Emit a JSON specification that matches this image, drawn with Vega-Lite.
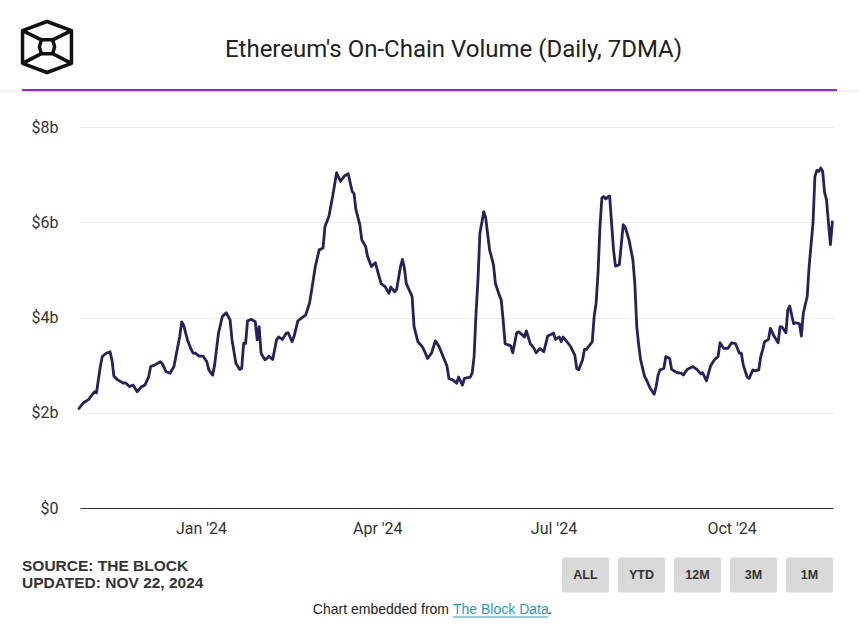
{
  "$schema": "https://vega.github.io/schema/vega-lite/v6.json",
  "width": 753,
  "height": 381,
  "autosize": "none",
  "padding": {"left": 80, "top": 127, "right": 26, "bottom": 120},
  "background": "white",
  "config": {"view": {"stroke": null}, "font": "Roboto"},
  "title": {"text": "Ethereum's On-Chain Volume (Daily, 7DMA)", "font": "Roboto", "fontSize": 24, "fontWeight": "normal", "color": "#222222", "anchor": "middle", "frame": "group", "baseline": "middle", "offset": -54, "dx": -3},
  "resolve": {"scale": {"x": "independent"}},
  "layer": [
    {
      "data": {"values": [{"part": "header"}]},
      "mark": {"type": "rule", "color": "#ebe4f2", "strokeWidth": 1},
      "encoding": {"x": {"value": -80}, "x2": {"value": 779}, "y": {"value": -36}}
    },
    {
      "data": {"values": [{"part": "accent"}]},
      "mark": {"type": "rule", "color": "#9b1fe8", "strokeWidth": 2},
      "encoding": {"x": {"value": -58}, "x2": {"value": 757}, "y": {"value": -37}}
    },
    {
      "data": {"values": [{"brand": "The Block"}]},
      "mark": {"type": "point", "shape": "M0,-1L0.96,-0.64L0.96,0.64L0,1L-0.96,0.64L-0.96,-0.64Z M-0.96,-0.64L-0.22,-0.28 M0.96,-0.64L0.22,-0.28 M-0.96,0.64L-0.22,0.26 M0.96,0.64L0.22,0.26 M-0.22,-0.28L0.22,-0.28L0.3,-0.01L0.22,0.26L-0.22,0.26L-0.3,-0.01Z", "size": 2601, "filled": false, "stroke": "#111111", "strokeWidth": 3.5, "opacity": 1, "strokeJoin": "round"},
      "encoding": {"x": {"value": -33}, "y": {"value": -80}}
    },
    {
      "data": {"values": [
        {"date":"2023-10-30","volume":2.09},{"date":"2023-11-01","volume":2.20},{"date":"2023-11-04","volume":2.28},{"date":"2023-11-05","volume":2.34},{"date":"2023-11-07","volume":2.44},{"date":"2023-11-08","volume":2.42},{"date":"2023-11-10","volume":2.97},{"date":"2023-11-11","volume":3.18},{"date":"2023-11-13","volume":3.25},{"date":"2023-11-15","volume":3.28},{"date":"2023-11-16","volume":3.11},{"date":"2023-11-17","volume":2.77},{"date":"2023-11-19","volume":2.69},{"date":"2023-11-22","volume":2.62},{"date":"2023-11-23","volume":2.63},{"date":"2023-11-25","volume":2.55},{"date":"2023-11-27","volume":2.58},{"date":"2023-11-29","volume":2.44},
        {"date":"2023-12-01","volume":2.54},{"date":"2023-12-03","volume":2.58},{"date":"2023-12-05","volume":2.76},{"date":"2023-12-06","volume":2.97},{"date":"2023-12-08","volume":3.00},{"date":"2023-12-11","volume":3.07},{"date":"2023-12-12","volume":3.03},{"date":"2023-12-14","volume":2.86},{"date":"2023-12-16","volume":2.83},{"date":"2023-12-18","volume":2.97},{"date":"2023-12-19","volume":3.18},{"date":"2023-12-21","volume":3.60},{"date":"2023-12-22","volume":3.91},{"date":"2023-12-23","volume":3.84},{"date":"2023-12-25","volume":3.53},{"date":"2023-12-27","volume":3.32},{"date":"2023-12-28","volume":3.25},{"date":"2023-12-29","volume":3.25},{"date":"2023-12-31","volume":3.19},
        {"date":"2024-01-02","volume":3.19},{"date":"2024-01-04","volume":3.07},{"date":"2024-01-05","volume":2.90},{"date":"2024-01-07","volume":2.79},{"date":"2024-01-08","volume":3.00},{"date":"2024-01-10","volume":3.67},{"date":"2024-01-12","volume":4.02},{"date":"2024-01-14","volume":4.10},{"date":"2024-01-16","volume":3.95},{"date":"2024-01-17","volume":3.53},{"date":"2024-01-19","volume":3.04},{"date":"2024-01-21","volume":2.91},{"date":"2024-01-22","volume":2.93},{"date":"2024-01-23","volume":3.46},{"date":"2024-01-24","volume":3.45},{"date":"2024-01-25","volume":3.93},{"date":"2024-01-27","volume":3.96},{"date":"2024-01-29","volume":3.91},{"date":"2024-01-30","volume":3.53},{"date":"2024-01-31","volume":3.81},
        {"date":"2024-02-01","volume":3.25},{"date":"2024-02-03","volume":3.11},{"date":"2024-02-04","volume":3.14},{"date":"2024-02-05","volume":3.19},{"date":"2024-02-07","volume":3.12},{"date":"2024-02-09","volume":3.53},{"date":"2024-02-10","volume":3.59},{"date":"2024-02-12","volume":3.54},{"date":"2024-02-14","volume":3.67},{"date":"2024-02-15","volume":3.68},{"date":"2024-02-17","volume":3.49},{"date":"2024-02-18","volume":3.60},{"date":"2024-02-20","volume":3.93},{"date":"2024-02-22","volume":3.99},{"date":"2024-02-24","volume":4.05},{"date":"2024-02-26","volume":4.30},{"date":"2024-02-27","volume":4.54},{"date":"2024-02-29","volume":5.07},
        {"date":"2024-03-02","volume":5.42},{"date":"2024-03-04","volume":5.46},{"date":"2024-03-05","volume":5.91},{"date":"2024-03-07","volume":6.12},{"date":"2024-03-09","volume":6.55},{"date":"2024-03-11","volume":7.04},{"date":"2024-03-13","volume":6.86},{"date":"2024-03-15","volume":6.97},{"date":"2024-03-17","volume":7.02},{"date":"2024-03-19","volume":6.65},{"date":"2024-03-20","volume":6.60},{"date":"2024-03-21","volume":6.26},{"date":"2024-03-23","volume":5.95},{"date":"2024-03-24","volume":5.63},{"date":"2024-03-26","volume":5.49},{"date":"2024-03-27","volume":5.28},{"date":"2024-03-29","volume":5.07},{"date":"2024-03-31","volume":5.15},
        {"date":"2024-04-01","volume":5.00},{"date":"2024-04-03","volume":4.71},{"date":"2024-04-05","volume":4.65},{"date":"2024-04-07","volume":4.51},{"date":"2024-04-08","volume":4.64},{"date":"2024-04-10","volume":4.54},{"date":"2024-04-11","volume":4.59},{"date":"2024-04-13","volume":5.07},{"date":"2024-04-14","volume":5.22},{"date":"2024-04-15","volume":5.04},{"date":"2024-04-16","volume":4.71},{"date":"2024-04-19","volume":4.44},{"date":"2024-04-20","volume":3.81},{"date":"2024-04-22","volume":3.49},{"date":"2024-04-24","volume":3.40},{"date":"2024-04-25","volume":3.33},{"date":"2024-04-27","volume":3.14},{"date":"2024-04-29","volume":3.25},
        {"date":"2024-05-01","volume":3.51},{"date":"2024-05-03","volume":3.38},{"date":"2024-05-05","volume":3.18},{"date":"2024-05-07","volume":2.98},{"date":"2024-05-08","volume":2.72},{"date":"2024-05-10","volume":2.69},{"date":"2024-05-12","volume":2.62},{"date":"2024-05-13","volume":2.75},{"date":"2024-05-15","volume":2.58},{"date":"2024-05-16","volume":2.72},{"date":"2024-05-19","volume":2.75},{"date":"2024-05-20","volume":2.83},{"date":"2024-05-21","volume":3.18},{"date":"2024-05-22","volume":4.09},{"date":"2024-05-23","volume":4.79},{"date":"2024-05-24","volume":5.77},{"date":"2024-05-26","volume":6.22},{"date":"2024-05-27","volume":6.09},{"date":"2024-05-29","volume":5.42},{"date":"2024-05-31","volume":5.11},
        {"date":"2024-06-01","volume":4.72},{"date":"2024-06-03","volume":4.47},{"date":"2024-06-04","volume":4.37},{"date":"2024-06-05","volume":3.95},{"date":"2024-06-06","volume":3.45},{"date":"2024-06-08","volume":3.42},{"date":"2024-06-09","volume":3.40},{"date":"2024-06-10","volume":3.26},{"date":"2024-06-12","volume":3.68},{"date":"2024-06-13","volume":3.70},{"date":"2024-06-15","volume":3.63},{"date":"2024-06-16","volume":3.59},{"date":"2024-06-17","volume":3.72},{"date":"2024-06-19","volume":3.45},{"date":"2024-06-21","volume":3.35},{"date":"2024-06-22","volume":3.26},{"date":"2024-06-24","volume":3.35},{"date":"2024-06-26","volume":3.28},{"date":"2024-06-28","volume":3.61},
        {"date":"2024-07-01","volume":3.67},{"date":"2024-07-02","volume":3.54},{"date":"2024-07-04","volume":3.59},{"date":"2024-07-05","volume":3.49},{"date":"2024-07-06","volume":3.59},{"date":"2024-07-08","volume":3.49},{"date":"2024-07-10","volume":3.38},{"date":"2024-07-12","volume":3.21},{"date":"2024-07-13","volume":2.93},{"date":"2024-07-14","volume":2.90},{"date":"2024-07-16","volume":3.11},{"date":"2024-07-17","volume":3.33},{"date":"2024-07-18","volume":3.33},{"date":"2024-07-21","volume":3.49},{"date":"2024-07-22","volume":4.02},{"date":"2024-07-23","volume":4.30},{"date":"2024-07-24","volume":4.93},{"date":"2024-07-25","volume":5.91},{"date":"2024-07-26","volume":6.51},{"date":"2024-07-27","volume":6.54},{"date":"2024-07-28","volume":6.49},{"date":"2024-07-29","volume":6.53},{"date":"2024-07-30","volume":6.55},{"date":"2024-07-31","volume":5.98},
        {"date":"2024-08-01","volume":5.42},{"date":"2024-08-02","volume":5.08},{"date":"2024-08-04","volume":5.11},{"date":"2024-08-06","volume":5.95},{"date":"2024-08-07","volume":5.90},{"date":"2024-08-09","volume":5.63},{"date":"2024-08-11","volume":5.21},{"date":"2024-08-12","volume":4.72},{"date":"2024-08-13","volume":3.81},{"date":"2024-08-14","volume":3.42},{"date":"2024-08-15","volume":3.11},{"date":"2024-08-17","volume":2.77},{"date":"2024-08-18","volume":2.69},{"date":"2024-08-20","volume":2.51},{"date":"2024-08-22","volume":2.39},{"date":"2024-08-23","volume":2.55},{"date":"2024-08-24","volume":2.79},{"date":"2024-08-25","volume":2.90},{"date":"2024-08-27","volume":2.93},{"date":"2024-08-28","volume":3.18},{"date":"2024-08-30","volume":3.14},{"date":"2024-08-31","volume":2.91},
        {"date":"2024-09-02","volume":2.86},{"date":"2024-09-03","volume":2.84},{"date":"2024-09-05","volume":2.83},{"date":"2024-09-06","volume":2.79},{"date":"2024-09-08","volume":2.91},{"date":"2024-09-10","volume":2.95},{"date":"2024-09-11","volume":2.97},{"date":"2024-09-13","volume":2.91},{"date":"2024-09-15","volume":2.82},{"date":"2024-09-16","volume":2.84},{"date":"2024-09-18","volume":2.67},{"date":"2024-09-20","volume":2.97},{"date":"2024-09-22","volume":3.11},{"date":"2024-09-24","volume":3.18},{"date":"2024-09-25","volume":3.47},{"date":"2024-09-27","volume":3.35},{"date":"2024-09-29","volume":3.35},
        {"date":"2024-10-01","volume":3.47},{"date":"2024-10-03","volume":3.45},{"date":"2024-10-05","volume":3.25},{"date":"2024-10-06","volume":3.25},{"date":"2024-10-07","volume":3.00},{"date":"2024-10-09","volume":2.75},{"date":"2024-10-10","volume":2.72},{"date":"2024-10-12","volume":2.90},{"date":"2024-10-13","volume":2.88},{"date":"2024-10-15","volume":2.90},{"date":"2024-10-16","volume":3.18},{"date":"2024-10-17","volume":3.32},{"date":"2024-10-18","volume":3.49},{"date":"2024-10-20","volume":3.54},{"date":"2024-10-21","volume":3.77},{"date":"2024-10-23","volume":3.60},{"date":"2024-10-25","volume":3.47},{"date":"2024-10-26","volume":3.81},{"date":"2024-10-27","volume":3.80},{"date":"2024-10-29","volume":3.68},{"date":"2024-10-30","volume":4.16},{"date":"2024-10-31","volume":4.24},
        {"date":"2024-11-02","volume":3.87},{"date":"2024-11-03","volume":3.89},{"date":"2024-11-05","volume":3.87},{"date":"2024-11-06","volume":3.61},{"date":"2024-11-07","volume":4.09},{"date":"2024-11-09","volume":4.44},{"date":"2024-11-10","volume":5.07},{"date":"2024-11-12","volume":5.98},{"date":"2024-11-13","volume":6.96},{"date":"2024-11-14","volume":7.09},{"date":"2024-11-15","volume":7.07},{"date":"2024-11-16","volume":7.14},{"date":"2024-11-17","volume":7.07},{"date":"2024-11-18","volume":6.62},{"date":"2024-11-19","volume":6.47},{"date":"2024-11-20","volume":5.98},{"date":"2024-11-21","volume":5.53},{"date":"2024-11-22","volume":6.01}
      ]},
      "mark": {"type": "line", "color": "#25215e", "strokeWidth": 2.8, "strokeJoin": "round", "strokeCap": "round"},
      "encoding": {
        "x": {"field": "date", "type": "temporal", "title": null,
          "scale": {"type": "utc", "domain": [{"year": 2023, "month": 10, "date": 30, "hours": 12, "utc": true}, {"year": 2024, "month": 11, "date": 22, "hours": 8, "utc": true}]},
          "axis": {"values": [{"year": 2024, "month": 1, "date": 1, "utc": true}, {"year": 2024, "month": 4, "date": 1, "utc": true}, {"year": 2024, "month": 7, "date": 1, "utc": true}, {"year": 2024, "month": 10, "date": 1, "utc": true}],
            "labelExpr": "utcFormat(datum.value, \"%b '%y\")", "grid": false, "ticks": false, "domain": true, "domainColor": "#333333", "domainWidth": 1, "labelFont": "Roboto", "labelFontSize": 16, "labelColor": "#333333", "labelPadding": 12}},
        "y": {"field": "volume", "type": "quantitative", "title": null,
          "scale": {"domain": [0, 8], "nice": false, "zero": true},
          "axis": {"values": [0, 2, 4, 6, 8], "labelExpr": "datum.value == 0 ? '$0' : '$' + datum.value + 'b'", "grid": true, "gridColor": "#ebebeb", "gridWidth": 1, "domain": false, "ticks": false, "labelFont": "Roboto", "labelFontSize": 16, "labelColor": "#333333", "labelPadding": 22}}
      }
    },
    {
      "data": {"values": [{"note": "SOURCE: THE BLOCK\nUPDATED: NOV 22, 2024"}]},
      "mark": {"type": "text", "align": "left", "baseline": "middle", "lineBreak": "\n", "lineHeight": 17, "font": "Liberation Sans", "fontWeight": "bold", "fontSize": 15.5, "color": "#333333"},
      "encoding": {"text": {"field": "note"}, "x": {"value": -58}, "y": {"value": 438.5}}
    },
    {
      "data": {"values": [{"range": "ALL"}, {"range": "YTD"}, {"range": "12M"}, {"range": "3M"}, {"range": "1M"}]},
      "mark": {"type": "point", "shape": "M-0.9,-0.745L0.9,-0.745Q1,-0.745 1,-0.645L1,0.645Q1,0.745 0.9,0.745L-0.9,0.745Q-1,0.745 -1,0.645L-1,-0.645Q-1,-0.745 -0.9,-0.745Z", "size": 2209, "filled": true, "fill": "#d9d9d9", "strokeWidth": 0, "opacity": 1},
      "encoding": {"x": {"field": "range", "type": "nominal", "scale": {"type": "point", "domain": ["ALL", "YTD", "12M", "3M", "1M"], "range": [505.5, 729.5], "padding": 0}, "axis": null}, "y": {"value": 448}}
    },
    {
      "data": {"values": [{"range": "ALL"}, {"range": "YTD"}, {"range": "12M"}, {"range": "3M"}, {"range": "1M"}]},
      "mark": {"type": "text", "align": "center", "baseline": "middle", "font": "Liberation Sans", "fontWeight": "bold", "fontSize": 12.5, "color": "#333333"},
      "encoding": {"text": {"field": "range"}, "x": {"field": "range", "type": "nominal", "scale": {"type": "point", "domain": ["ALL", "YTD", "12M", "3M", "1M"], "range": [505.5, 729.5], "padding": 0}, "axis": null}, "y": {"value": 448}}
    },
    {
      "data": {"values": [{"credit": "Chart embedded from"}]},
      "mark": {"type": "text", "align": "right", "baseline": "middle", "font": "Liberation Sans", "fontSize": 14, "color": "#222222"},
      "encoding": {"text": {"field": "credit"}, "x": {"value": 369}, "y": {"value": 483}}
    },
    {
      "data": {"values": [{"credit": "The Block Data"}]},
      "mark": {"type": "text", "align": "left", "baseline": "middle", "font": "Liberation Sans", "fontSize": 14, "color": "#1d9ccf"},
      "encoding": {"text": {"field": "credit"}, "x": {"value": 373}, "y": {"value": 483}}
    },
    {
      "data": {"values": [{"credit": "underline"}]},
      "mark": {"type": "rule", "color": "#1d9ccf", "strokeWidth": 1},
      "encoding": {"x": {"value": 373}, "x2": {"value": 468}, "y": {"value": 490}}
    },
    {
      "data": {"values": [{"credit": "."}]},
      "mark": {"type": "text", "align": "left", "baseline": "middle", "font": "Liberation Sans", "fontSize": 14, "color": "#222222"},
      "encoding": {"text": {"field": "credit"}, "x": {"value": 468}, "y": {"value": 483}}
    }
  ]
}
